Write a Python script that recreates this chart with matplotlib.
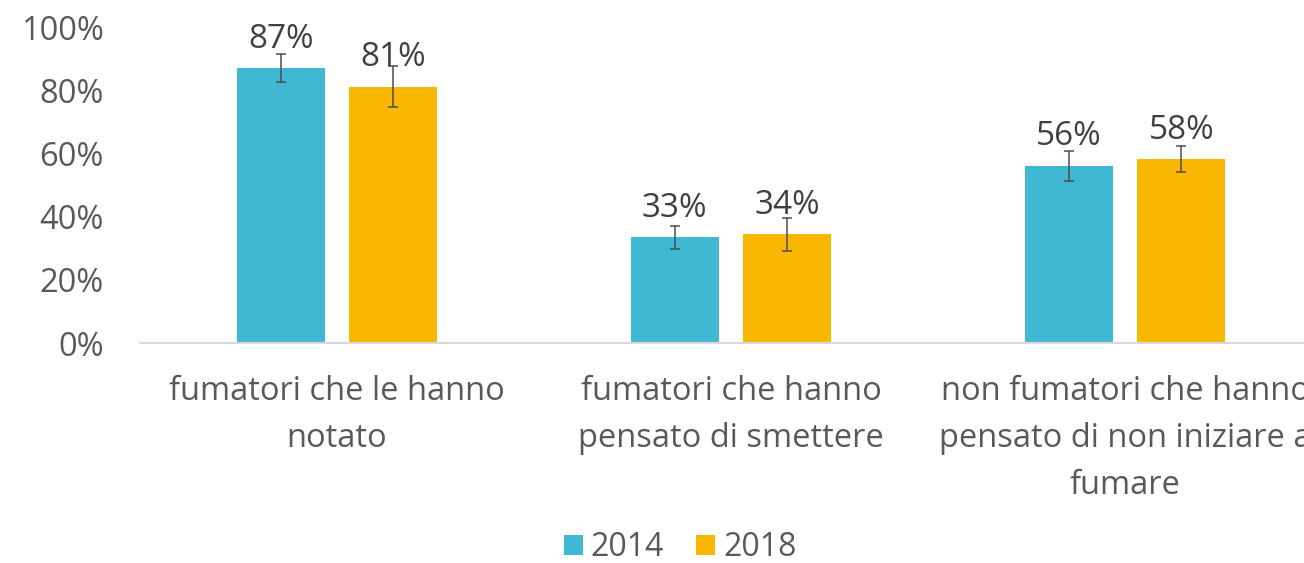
import numpy as np
import matplotlib.pyplot as plt

plt.rcParams['font.family'] = ['Open Sans', 'DejaVu Sans']

categories = ['fumatori che le hanno\nnotato',
              'fumatori che hanno\npensato di smettere',
              'non fumatori che hanno\npensato di non iniziare a\nfumare']
years = ['2014', '2018']
v2014 = [87.3, 33.5, 56.2]
v2018 = [81.4, 34.5, 58.4]
lab2014 = ['87%', '33%', '56%']
lab2018 = ['81%', '34%', '58%']
err2014 = [4.4, 3.6, 4.8]
err2018 = [6.5, 5.3, 4.2]
colors = ['#41B8D3', '#F9B700']

fig = plt.figure(figsize=(13.04, 5.63), dpi=100)
# the reference cuts the last category off at the right edge, so the axes runs past it
ax = fig.add_axes([140/1304, 220/563, 1182/1304, 315/563])

x = np.arange(len(categories))
w = 0.223
off = 0.143
for vals, errs, labs, c, sgn, yr in [(v2014, err2014, lab2014, colors[0], -1, years[0]),
                                     (v2018, err2018, lab2018, colors[1], 1, years[1])]:
    ax.bar(x + sgn*off, vals, w, color=c, label=yr, zorder=2)
    ax.errorbar(x + sgn*off, vals, yerr=errs, fmt='none', ecolor='#4d4d4d',
                elinewidth=1.1, capsize=3.6, capthick=1.1, zorder=3)
    for xi, v, lb in zip(x + sgn*off, vals, labs):
        ax.annotate(lb, (xi, v), xytext=(0, 9), textcoords='offset points',
                    ha='center', va='bottom', fontsize=24, color='#404040', zorder=4)

ax.set_xlim(-0.5, 2.5)
ax.set_ylim(0, 100)
ax.set_yticks(range(0, 101, 20))
ax.set_yticklabels([f'{t}%' for t in range(0, 101, 20)])
ax.set_xticks(x)
ax.set_xticklabels(categories, linespacing=1.57)
ax.tick_params(axis='both', length=0, labelsize=23.5, colors='#595959')
ax.tick_params(axis='y', pad=26)
ax.tick_params(axis='x', pad=23)
for s in ['top', 'right', 'left']:
    ax.spines[s].set_visible(False)
ax.spines['bottom'].set_color('#D9D9D9')
ax.spines['bottom'].set_linewidth(1.5)

handles, labels = ax.get_legend_handles_labels()
fig.legend(handles, labels, loc='center', bbox_to_anchor=(680/1304, 1 - 548/563), ncol=2,
           frameon=False, fontsize=23, labelcolor='#595959', handlelength=0.6,
           handleheight=0.6, handletextpad=0.25, columnspacing=1.0)

fig.savefig('out.png', dpi=100)
